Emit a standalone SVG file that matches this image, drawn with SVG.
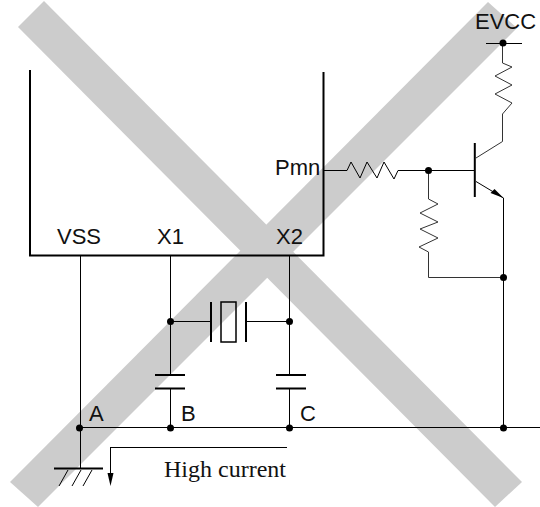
<svg xmlns="http://www.w3.org/2000/svg" width="540" height="507" viewBox="0 0 540 507">
<style>
.band{fill:#ccc}
.w{fill:none;stroke:#000;stroke-width:1}
.g{fill:none;stroke:#333;stroke-width:1}
.b{fill:none;stroke:#000;stroke-width:2}
.p{fill:none;stroke:#000;stroke-width:1.500}
.d{fill:#000}
text{font-family:"Liberation Sans",Arial,sans-serif;font-size:22px;fill:#111}
.s{font-family:"Liberation Serif","Times New Roman",serif;font-size:24px}
</style>
<rect width="540" height="507" fill="#fff"/>
<g id="cross">
<polygon class="band" points="44,1 18,27 495,507 522,482"/>
<polygon class="band" points="488,2 517,28 38,507 10,482"/>
</g>
<g id="connectors">
<path class="w" d="M80.500,256V468M170.500,256V375M170.500,388V428M289.500,256V375M289.500,388V428M80,427.500H540"/>
<path class="w" d="M170,321.500H211M246,321.500H289"/>
<path class="b" d="M155,375H185M155,388.500H185M276,375H306M276,388.500H306"/>
<path class="w" d="M323,170.500H347L351,162L360,178L367,162L377,178L384,162L394,179L398,170.500H474"/>
<path class="g" d="M428.500,170V199L438,204L420,213L438,222L420,229L438,238L419,247L428.500,252V277.500H503"/>
<path class="g" d="M502.500,43V63L512,67L495,76L512,85L495,94L512,103L502.500,114V141.500L476,158"/>
<path class="w" d="M476,181.500L503.500,198V428"/>
<path class="w" d="M486,43.500H522"/>
<path class="w" d="M110.500,447.500H287M110.500,447V474"/>
</g>
<g id="ic"><path class="b" d="M30,70V255.500H323.500V72"/></g>
<g id="crystal">
<path class="b" d="M211,302V342M246,302V342"/>
<rect class="p" x="221" y="302" width="15" height="40"/>
</g>
<g id="transistor">
<path class="b" d="M474.800,143V197"/>
<polygon class="d" points="503.500,198 494.500,189 490.500,193"/>
</g>
<g id="ground">
<path class="b" d="M54,468.500H103"/>
<path class="w" d="M68,470L59,486M81,470L72,486M92,470L83,486"/>
<polygon class="d" points="107.500,473 113.500,473 110.500,486"/>
</g>
<g id="junctions">
<circle class="d" cx="503" cy="43" r="3.500"/>
<circle class="d" cx="428.500" cy="170.500" r="3.500"/>
<circle class="d" cx="503.500" cy="277.500" r="3.500"/>
<circle class="d" cx="170.500" cy="321.500" r="3.500"/>
<circle class="d" cx="289.500" cy="321.500" r="3.500"/>
<circle class="d" cx="79.500" cy="428" r="3.500"/>
<circle class="d" cx="170.500" cy="428" r="3.500"/>
<circle class="d" cx="289.500" cy="428" r="3.500"/>
<circle class="d" cx="503.500" cy="428" r="3.500"/>
</g>
<g id="labels">
<text x="475" y="29">EVCC</text>
<text x="275" y="175">Pmn</text>
<text x="57" y="244">VSS</text>
<text x="157" y="244">X1</text>
<text x="276" y="244">X2</text>
<text x="89" y="421">A</text>
<text x="181" y="421">B</text>
<text x="300" y="421">C</text>
<text class="s" x="164" y="477">High current</text>
</g>
</svg>
